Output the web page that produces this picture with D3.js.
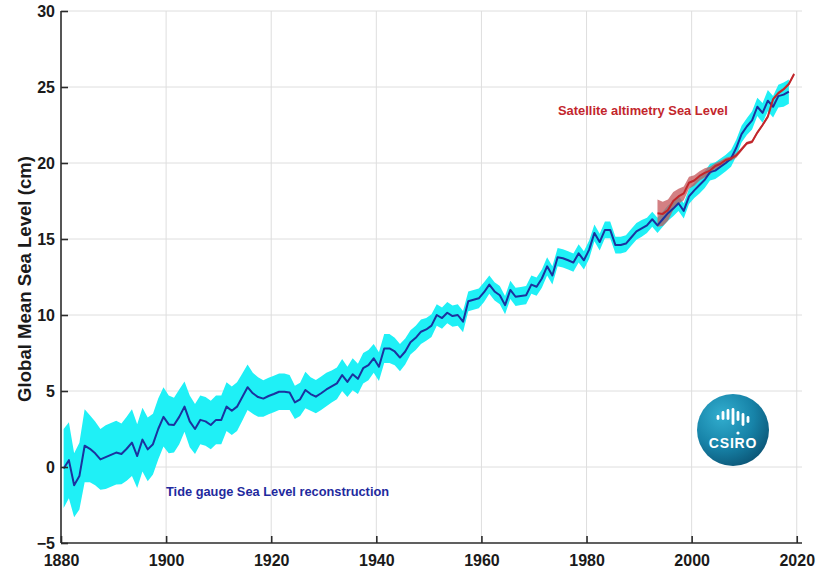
<!DOCTYPE html>
<html>
<head>
<meta charset="utf-8">
<script src="https://cdn.jsdelivr.net/npm/d3@7"></script>
<style>
  html, body { margin: 0; padding: 0; background: #fff; }
  svg { display: block; font-family: "Liberation Sans", Arial, sans-serif; }
</style>
</head>
<body>
<svg id="chart" width="823" height="571"></svg>
<script>
// Tide gauge reconstruction: annual means (cm), plotted at mid-year
const tideStartYear = 1880;
const tideLevel = [
  -0.1, 0.45, -1.2, -0.6, 1.4, 1.2, 0.9, 0.5, 0.65, 0.8,
  0.95, 0.86, 1.2, 1.6, 0.72, 1.8, 1.16, 1.5, 2.5, 3.3,
  2.8, 2.76, 3.3, 3.97, 3.0, 2.5, 3.1, 3.0, 2.76, 3.1,
  3.1, 3.97, 3.7, 3.97, 4.6, 5.25, 4.85, 4.6, 4.5, 4.67,
  4.8, 4.95, 4.95, 4.9, 4.25, 4.45, 5.07, 4.8, 4.63, 4.85,
  5.1, 5.3, 5.5, 6.05, 5.6, 6.1, 5.8, 6.5, 6.7, 7.15,
  6.6, 7.8, 7.8, 7.6, 7.2, 7.6, 8.2, 8.5, 8.9, 9.05,
  9.3, 10.0, 9.8, 10.15, 9.93, 10.0, 9.56, 10.9, 11.0, 11.1,
  11.5, 12.0, 11.55, 11.3, 10.65, 11.65, 11.2, 11.25, 11.3, 12.0,
  11.86, 12.4, 13.2, 12.6, 13.8, 13.73, 13.6, 13.45, 14.06, 13.6,
  14.3, 15.4, 14.8, 15.6, 15.6, 14.6, 14.6, 14.7, 15.1, 15.5,
  15.7, 15.9, 16.3, 15.9, 16.3, 16.7, 17.0, 17.35, 16.85, 17.8,
  18.2, 18.55, 18.9, 19.4, 19.5, 19.75, 20.0, 20.3, 21.0, 21.9,
  22.4, 22.8, 23.7, 23.3, 24.1, 23.7, 24.4, 24.5, 24.7
];
// One-sigma uncertainty of the reconstruction (cm)
const tideError = [
  2.6, 2.5, 2.1, 2.2, 2.4, 2.2, 2.1, 2.0, 2.1, 2.1,
  2.1, 2.0, 2.1, 2.2, 2.1, 2.1, 2.1, 2.0, 2.0, 1.95,
  1.9, 1.8, 1.8, 1.65, 1.7, 1.65, 1.6, 1.6, 1.6, 1.6,
  1.6, 1.6, 1.6, 1.6, 1.55, 1.5, 1.35, 1.3, 1.2, 1.2,
  1.2, 1.2, 1.2, 1.15, 1.1, 1.1, 1.2, 1.1, 1.1, 1.1,
  1.1, 1.05, 1.05, 1.05, 1.0, 1.05, 1.0, 1.0, 1.0, 0.95,
  0.95, 0.95, 0.95, 0.9, 0.9, 0.85, 0.8, 0.8, 0.8, 0.75,
  0.75, 0.7, 0.7, 0.7, 0.7, 0.7, 0.7, 0.65, 0.65, 0.65,
  0.65, 0.6, 0.6, 0.6, 0.6, 0.6, 0.6, 0.6, 0.6, 0.6,
  0.6, 0.6, 0.6, 0.6, 0.6, 0.6, 0.6, 0.6, 0.6, 0.6,
  0.6, 0.55, 0.55, 0.55, 0.55, 0.55, 0.55, 0.55, 0.55, 0.55,
  0.55, 0.5, 0.5, 0.5, 0.5, 0.5, 0.5, 0.5, 0.5, 0.5,
  0.5, 0.55, 0.55, 0.55, 0.55, 0.55, 0.55, 0.55, 0.55, 0.55,
  0.55, 0.6, 0.6, 0.65, 0.7, 0.7, 0.75, 0.8, 0.8
];

// Satellite altimetry: annual means (cm) and uncertainty
const satStartYear = 1993;
const satLevel = [
  16.7, 16.65, 16.9, 17.5, 17.8, 18.0, 18.7, 18.85, 19.15, 19.35,
  19.5, 19.8, 19.95, 20.2, 20.3, 20.5, 20.9, 21.3, 21.4, 22.0,
  22.5, 23.05, 24.2, 24.6, 24.85, 25.2, 25.85
];
const satError = [
  0.9, 0.8, 0.7, 0.6, 0.5, 0.45, 0.4, 0.35, 0.3, 0.3,
  0.25, 0.2, 0.2, 0.15, 0.15, 0.15, 0.12, 0.1, 0.1, 0.1,
  0.1, 0.1, 0.1, 0.1, 0.1, 0.1, 0.1
];

const xTicks = [1880, 1900, 1920, 1940, 1960, 1980, 2000, 2020];
const yTicks = [-5, 0, 5, 10, 15, 20, 25, 30];

const tideLabel = "Tide gauge Sea Level reconstruction";
const satLabel = "Satellite altimetry Sea Level";
const yLabel = "Global Mean Sea Level (cm)";

// ---------------------------------------------------------------
const svg = d3.select("#chart");
const plotLeft = 61, plotRight = 802, plotTop = 11, plotBottom = 543;

const x = d3.scaleLinear().domain([1880, 2021]).range([plotLeft, plotRight]);
const y = d3.scaleLinear().domain([-5, 30]).range([plotBottom, plotTop]);

const tide = tideLevel.map((v, i) => ({ t: tideStartYear + i + 0.5, v, e: tideError[i] }));
const sat = satLevel.map((v, i) => ({ t: satStartYear + i + 0.5, v, e: satError[i] }));

// grid
const grid = svg.append("g").attr("stroke", "#dedede").attr("stroke-width", 1);
grid.selectAll("line.h").data(yTicks.filter(d => d > -5)).join("line")
  .attr("class", "h")
  .attr("x1", plotLeft).attr("x2", plotRight)
  .attr("y1", d => y(d)).attr("y2", d => y(d));
grid.selectAll("line.v").data(xTicks.filter(d => d > 1880)).join("line")
  .attr("class", "v")
  .attr("x1", d => x(d)).attr("x2", d => x(d))
  .attr("y1", plotTop).attr("y2", plotBottom);

// uncertainty bands
const band = d3.area()
  .x(d => x(d.t))
  .y0(d => y(d.v - d.e))
  .y1(d => y(d.v + d.e));

svg.append("path").datum(tide)
  .attr("d", band)
  .attr("fill", "#1ff0f6");

svg.append("path").datum(sat)
  .attr("d", band)
  .attr("fill", "#c4555a")
  .attr("fill-opacity", 0.75);

// central lines
const line = d3.line().x(d => x(d.t)).y(d => y(d.v));

svg.append("path").datum(tide)
  .attr("d", line)
  .attr("fill", "none")
  .attr("stroke", "#1b329f")
  .attr("stroke-width", 2)
  .attr("stroke-linejoin", "round");

svg.append("path").datum(sat)
  .attr("d", line)
  .attr("fill", "none")
  .attr("stroke", "#c2262b")
  .attr("stroke-width", 2)
  .attr("stroke-linejoin", "round");

// axes
const xAxis = d3.axisBottom(x).tickValues(xTicks).tickFormat(d3.format("d"))
  .tickSizeInner(-7).tickSizeOuter(0).tickPadding(14);
const yAxis = d3.axisLeft(y).tickValues(yTicks)
  .tickSizeInner(-7).tickSizeOuter(0).tickPadding(14);

const gx = svg.append("g").attr("transform", `translate(0,${plotBottom})`).call(xAxis);
const gy = svg.append("g").attr("transform", `translate(${plotLeft},0)`).call(yAxis);

[gx, gy].forEach(g => {
  g.select(".domain").attr("stroke", "#2b2b2b").attr("stroke-width", 1.6);
  g.selectAll(".tick line").attr("stroke", "#2b2b2b").attr("stroke-width", 1.6);
  g.selectAll(".tick text")
    .attr("fill", "#1a1a1a")
    .attr("font-size", 16)
    .attr("font-weight", "bold")
    .attr("font-family", "'Liberation Sans', Arial, sans-serif");
});
gx.select(".domain").attr("d", `M${plotLeft},0H${plotRight}`);
gy.select(".domain").attr("d", `M0,${plotBottom}V${plotTop}`);
gx.selectAll(".tick text").attr("dy", "0.71em").attr("y", 12);
gy.selectAll(".tick text").attr("x", -6);

// axis title
svg.append("text")
  .attr("transform", "translate(31,279) rotate(-90)")
  .attr("text-anchor", "middle")
  .attr("font-size", 18.6)
  .attr("font-weight", "bold")
  .attr("fill", "#1a1a1a")
  .text(yLabel);

// series annotations
svg.append("text")
  .attr("x", 166).attr("y", 496)
  .attr("font-size", 12.8)
  .attr("font-weight", "bold")
  .attr("fill", "#1f2a9e")
  .text(tideLabel);

svg.append("text")
  .attr("x", 558).attr("y", 115)
  .attr("font-size", 12.9)
  .attr("font-weight", "bold")
  .attr("fill", "#c3262c")
  .text(satLabel);

// CSIRO badge
const defs = svg.append("defs");
const grad = defs.append("radialGradient").attr("id", "badge")
  .attr("cx", "35%").attr("cy", "30%").attr("r", "80%");
grad.append("stop").attr("offset", "0%").attr("stop-color", "#32aecf");
grad.append("stop").attr("offset", "55%").attr("stop-color", "#1783a8");
grad.append("stop").attr("offset", "100%").attr("stop-color", "#0a5070");

const badge = svg.append("g").attr("transform", "translate(733,430)");
badge.append("circle").attr("r", 36).attr("fill", "url(#badge)");
const bars = [[-15, -15, 5], [-10, -19, 9], [-5, -21, 11], [0, -22, 17], [5, -19, 10], [10, -17, 13], [15, -14, 7]];
badge.selectAll("rect.bar").data(bars).join("rect")
  .attr("class", "bar")
  .attr("x", d => d[0] - 1.4).attr("y", d => d[1])
  .attr("width", 2.8).attr("height", d => d[2])
  .attr("rx", 1.4).attr("fill", "#ffffff");
badge.append("circle").attr("cx", 5).attr("cy", 3).attr("r", 1.6).attr("fill", "#fff");
badge.append("text")
  .attr("y", 18).attr("text-anchor", "middle")
  .attr("font-size", 14).attr("font-weight", "bold")
  .attr("letter-spacing", 0.8)
  .attr("fill", "#ffffff")
  .text("CSIRO");
</script>
</body>
</html>
